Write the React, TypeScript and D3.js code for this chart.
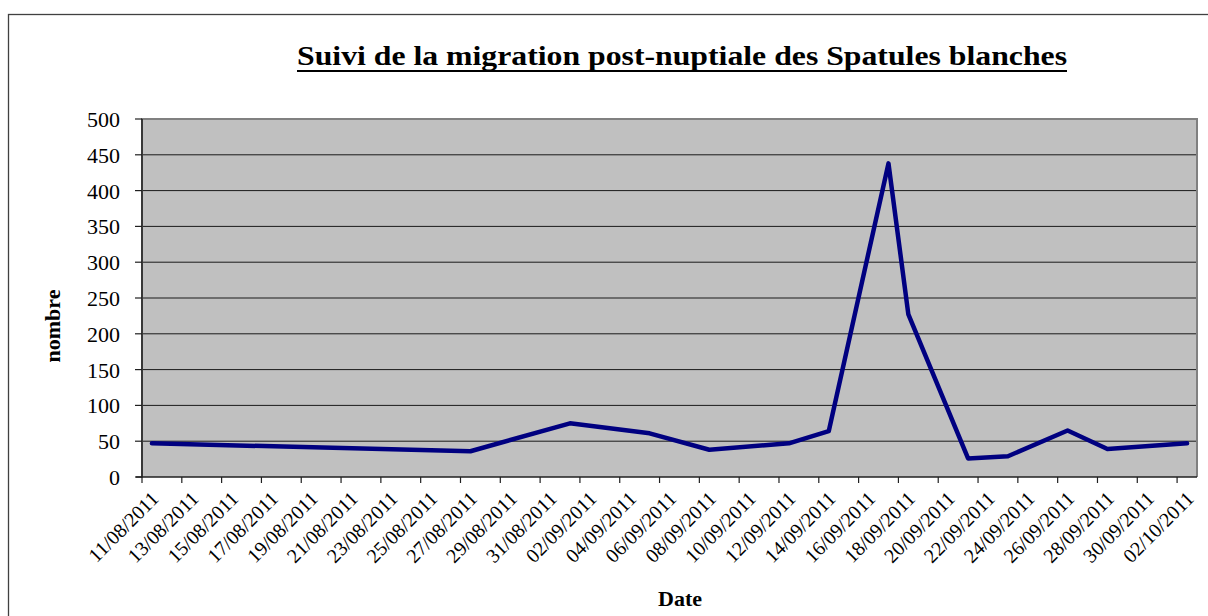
import React from "react";
import * as d3 from "d3";

const dates: string[] = [
  "11/08/2011", "27/08/2011", "01/09/2011", "05/09/2011", "08/09/2011",
  "12/09/2011", "14/09/2011", "17/09/2011", "18/09/2011", "21/09/2011",
  "23/09/2011", "26/09/2011", "28/09/2011", "02/10/2011",
];
const values: number[] = [47, 36, 75, 61, 38, 47, 64, 438, 227, 26, 29, 65, 39, 47];
const yTicks: number[] = [0, 50, 100, 150, 200, 250, 300, 350, 400, 450, 500];
const axisStart = "11/08/2011";
const axisEnd = "03/10/2011";

const title = "Suivi de la migration post-nuptiale des Spatules blanches";
const xTitle = "Date";
const yTitle = "nombre";

const parse = d3.utcParse("%d/%m/%Y");
const fmt = d3.utcFormat("%d/%m/%Y");
const FONT = "Liberation Serif";

export default function App() {
  const W = 1208, H = 616;
  const left = 142, right = 1197, top = 119, bottom = 477;
  const x = d3.scaleUtc().domain([parse(axisStart)!, parse(axisEnd)!]).range([left, right]);
  const y = d3.scaleLinear().domain([0, 500]).range([bottom, top]);
  const halfDay = 12 * 3600 * 1000;
  const pts: [number, number][] = dates.map((d, i) => [
    x(new Date(parse(d)!.getTime() + halfDay)),
    y(values[i]),
  ]);
  const line = d3.line()(pts) || "";
  const tickDates = d3.utcDay.range(parse(axisStart)!, parse(axisEnd)!, 2);

  return (
    <div style={{ fontFamily: FONT }}>
      <style>{`svg text { font-family: "Liberation Serif", serif !important; }`}</style>
      <svg width={W} height={H} style={{ position: "absolute", left: 0, top: 0, background: "#fff" }}>
        <rect x={8.5} y={14.5} width={1220} height={640} fill="#fff" stroke="#404040" strokeWidth={1.3} />
        <text x={682} y={65} textAnchor="middle" fontFamily={FONT} fontWeight="bold" fontSize={27}
          textLength={770} lengthAdjust="spacingAndGlyphs">{title}</text>
        <line x1={297} x2={1067} y1={71} y2={71} stroke="#000" strokeWidth={2.2} />
        <rect x={left} y={top} width={right - left} height={bottom - top} fill="#c0c0c0" />
        {yTicks.slice(1, -1).map((t) => (
          <line key={"g" + t} x1={left} x2={right} y1={y(t)} y2={y(t)} stroke="#1a1a1a" strokeWidth={1} />
        ))}
        <path d={`M${left},${bottom}V${top}H${right}V${bottom}`} fill="none" stroke="#808080" strokeWidth={2} />
        <line x1={left} x2={left} y1={top} y2={bottom + 0.5} stroke="#202020" strokeWidth={1.5} />
        <line x1={left - 6} x2={right} y1={bottom} y2={bottom} stroke="#202020" strokeWidth={1.5} />
        {yTicks.map((t) => (
          <g key={"y" + t}>
            <line x1={left - 7} x2={left} y1={y(t)} y2={y(t)} stroke="#202020" strokeWidth={1.2} />
            <text x={120} y={y(t) + 8} textAnchor="end" fontFamily={FONT} fontSize={22} fill="#000">{t}</text>
          </g>
        ))}
        {tickDates.map((d) => {
          const tx = x(d);
          const cx = x(new Date(d.getTime() + halfDay));
          return (
            <g key={fmt(d)}>
              <line x1={tx} x2={tx} y1={bottom} y2={bottom + 6} stroke="#202020" strokeWidth={1.2} />
              <text transform={`translate(${cx + 8},${bottom + 23}) rotate(-45)`} textAnchor="end"
                fontFamily={FONT} fontSize={20} fill="#000">{fmt(d)}</text>
            </g>
          );
        })}
        <path d={line} fill="none" stroke="#000080" strokeWidth={4.5} strokeLinejoin="round" strokeLinecap="round" />
        <text transform={`translate(60,326) rotate(-90)`} textAnchor="middle" fontFamily={FONT}
          fontWeight="bold" fontSize={22}>{yTitle}</text>
        <text x={680} y={606} textAnchor="middle" fontFamily={FONT} fontWeight="bold" fontSize={22}>{xTitle}</text>
      </svg>
    </div>
  );
}
